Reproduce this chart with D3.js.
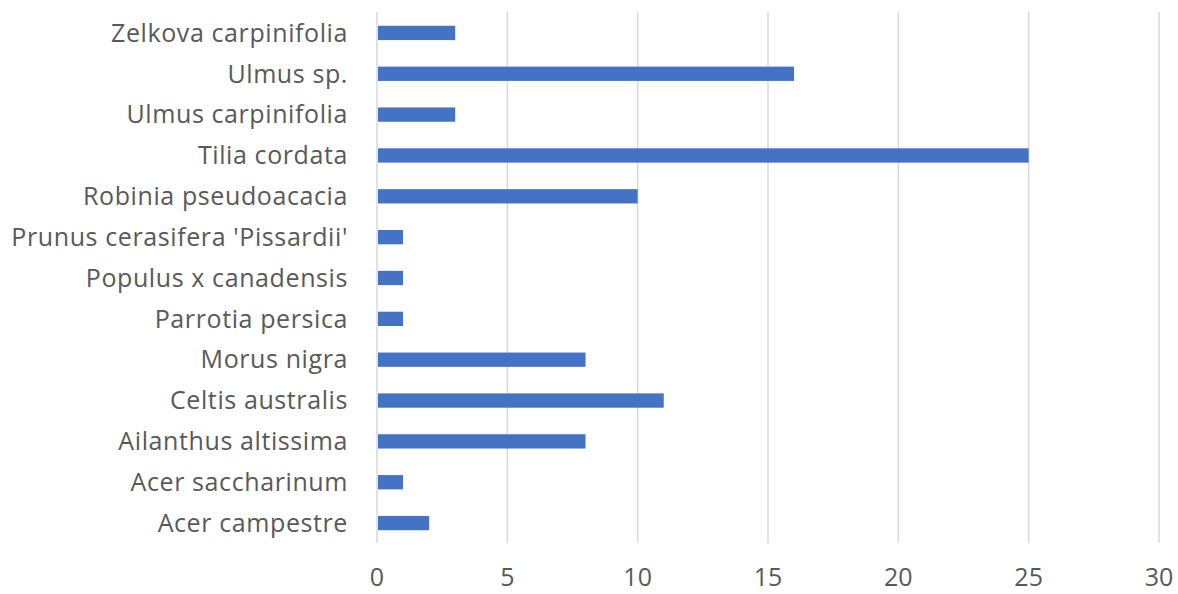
<!DOCTYPE html>
<html><head><meta charset="utf-8">
<script src="https://cdn.jsdelivr.net/npm/d3@7"></script>
<style>body{margin:0;background:#fff;} text{font-family:"Open Sans",sans-serif;fill:#595959;}</style>
</head><body>
<svg id="c" width="1178" height="594"></svg>
<script>
const categories = ["Zelkova carpinifolia","Ulmus sp.","Ulmus carpinifolia","Tilia cordata","Robinia pseudoacacia","Prunus cerasifera 'Pissardii'","Populus x canadensis","Parrotia persica","Morus nigra","Celtis australis","Ailanthus altissima","Acer saccharinum","Acer campestre"];
const values = [3,16,3,25,10,1,1,1,8,11,8,1,2];
const xTicks = [0,5,10,15,20,25,30];

const svg = d3.select("#c");
const x = d3.scaleLinear().domain([0,30]).range([377,1159]);
const y = d3.scaleBand().domain(categories).range([12.5,543.5]).paddingInner(0.65).paddingOuter(0.325);

svg.append("g").selectAll("line").data(xTicks).join("line")
  .attr("x1",d=>x(d)).attr("x2",d=>x(d)).attr("y1",12).attr("y2",543)
  .attr("stroke","#d9d9d9").attr("stroke-width",1.5);

svg.append("g").selectAll("rect").data(values).join("rect")
  .attr("x",x(0)+1).attr("y",(d,i)=>y(categories[i]))
  .attr("width",d=>x(d)-x(0)-1).attr("height",y.bandwidth())
  .attr("fill","#4472c4");

svg.append("g").selectAll("text").data(categories).join("text")
  .attr("x",348).attr("y",d=>y(d)+y.bandwidth()/2).attr("dy","0.35em")
  .attr("text-anchor","end").attr("font-size",25).attr("letter-spacing",0.6).text(d=>d);

svg.append("g").selectAll("text").data(xTicks).join("text")
  .attr("x",d=>x(d)).attr("y",577).attr("dy","0.35em")
  .attr("text-anchor","middle").attr("font-size",25).text(d=>d);
</script>
</body></html>
